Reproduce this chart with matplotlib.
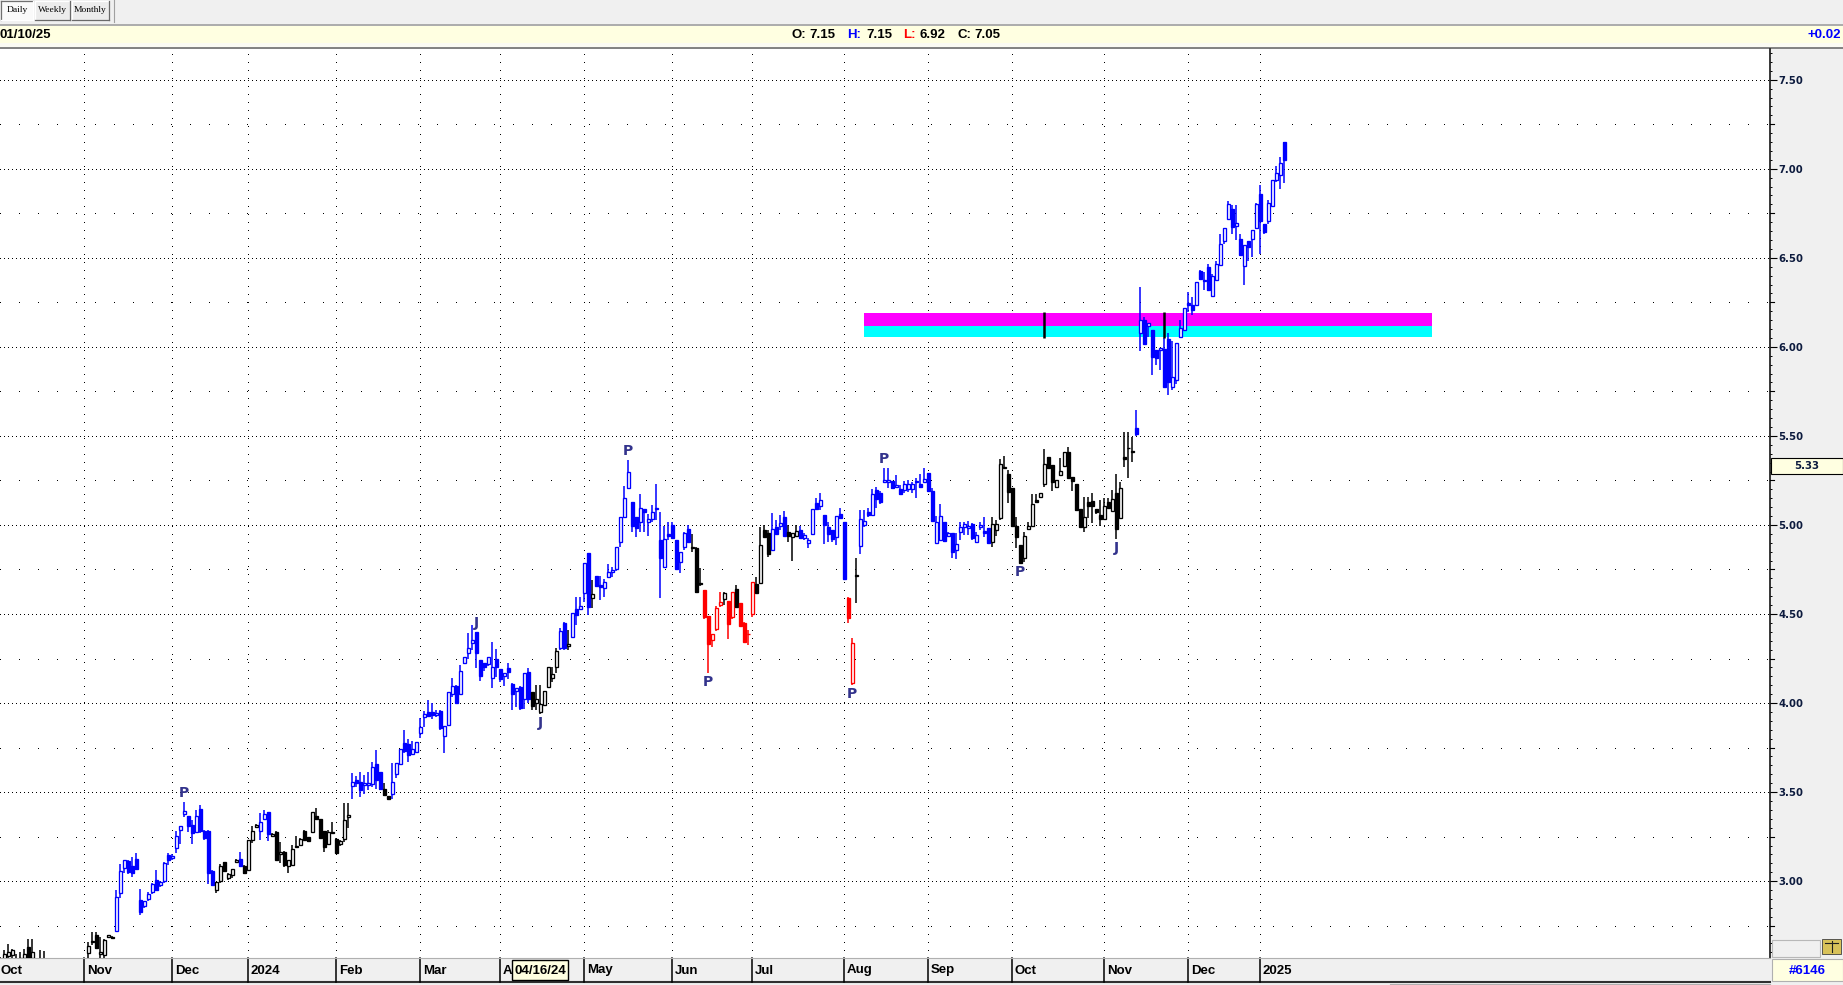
import matplotlib
matplotlib.use("Agg")
import matplotlib.pyplot as plt
from matplotlib.patches import Rectangle
from matplotlib.transforms import blended_transform_factory
from matplotlib.ticker import MultipleLocator
import numpy as np

# ---------------- data (daily bars, index 0 = first bar at left edge) ----------------
opens = [
 2.52, 2.55, 2.58, 2.585, 2.56, 2.55, 2.57, 2.633, 2.57, 2.55,
 2.52, 2.55, 2.50, 2.47, 2.45, 2.48, 2.46, 2.44, 2.47, 2.50,
 2.48, 2.51, 2.597, 2.66, 2.70, 2.59, 2.588, 2.687, 2.685, 2.719,
 2.934, 3.074, 3.111, 3.087, 3.124, 2.896, 2.859, 2.902, 2.939, 3.008,
 2.98, 2.999, 3.149, 3.132, 3.186, 3.289, 3.377, 3.367, 3.317, 3.276,
 3.405, 3.279, 3.279, 3.059, 2.952, 2.999, 3.107, 3.018, 3.035, 3.109,
 3.124, 3.087, 3.061, 3.233, 3.304, 3.279, 3.35, 3.388, 3.255, 3.276,
 3.154, 3.165, 3.083, 3.093, 3.192, 3.205, 3.279, 3.246, 3.276, 3.364,
 3.35, 3.279, 3.21, 3.276, 3.236, 3.21, 3.236, 3.36, 3.534, 3.567,
 3.558, 3.54, 3.54, 3.543, 3.657, 3.614, 3.52, 3.478, 3.489, 3.599,
 3.657, 3.773, 3.77, 3.712, 3.727, 3.83, 3.919, 3.951, 3.948, 3.931,
 3.955, 3.815, 3.876, 4.05, 4.096, 4.05, 4.223, 4.279, 4.339, 4.399,
 4.242, 4.223, 4.217, 4.139, 4.247, 4.189, 4.152, 4.195, 4.107, 4.069,
 4.092, 4.021, 4.176, 4.064, 3.998, 3.951, 3.99, 4.088, 4.139, 4.20,
 4.307, 4.448, 4.318, 4.373, 4.526, 4.526, 4.616, 4.841, 4.588, 4.713,
 4.663, 4.644, 4.71, 4.738, 4.751, 4.906, 5.047, 5.21, 5.127, 5.043,
 5.015, 5.09, 5.015, 5.032, 5.09, 4.916, 4.766, 4.948, 5.0, 4.916,
 4.794, 4.878, 4.978, 4.87, 4.871, 4.67, 4.635, 4.489, 4.354, 4.418,
 4.551, 4.582, 4.573, 4.481, 4.639, 4.564, 4.448, 4.386, 4.498, 4.667,
 4.676, 4.972, 4.953, 4.858, 4.987, 4.994, 5.043, 4.959, 4.934, 4.94,
 4.972, 4.925, 4.897, 4.948, 5.122, 5.107, 5.056, 4.99, 4.972, 4.934,
 5.06, 5.015, 4.588, 4.11, 4.715, 4.882, 5.0, 5.075, 5.056, 5.197,
 5.182, 5.24, 5.243, 5.249, 5.215, 5.2, 5.197, 5.2, 5.2, 5.243,
 5.23, 5.24, 5.29, 5.193, 4.90, 4.916, 5.015, 4.938, 4.953, 4.86,
 4.961, 4.987, 4.985, 5.004, 4.906, 4.987, 4.968, 4.985, 4.903, 4.972,
 5.037, 5.318, 5.286, 5.206, 4.996, 4.888, 4.813, 4.976, 4.994, 5.14,
 5.155, 5.23, 5.379, 5.336, 5.211, 5.28, 5.333, 5.407, 5.267, 5.228,
 5.088, 4.991, 5.131, 5.134, 5.09, 5.056, 5.032, 5.127, 5.08, 5.178,
 5.037, 5.379, 5.43, 5.41, 5.542, 6.08, 6.15, 6.118, 6.097, 5.985,
 5.981, 5.99, 6.043, 5.776, 5.813, 6.056, 6.097, 6.247, 6.237, 6.237,
 6.426, 6.37, 6.449, 6.286, 6.378, 6.462, 6.594, 6.72, 6.776, 6.68,
 6.604, 6.454, 6.593, 6.607, 6.667, 6.86, 6.688, 6.707, 6.791, 6.938,
 6.966, 7.15]
highs = [
 2.575, 2.615, 2.648, 2.62, 2.59, 2.60, 2.62, 2.674, 2.674, 2.56,
 2.614, 2.605, 2.54, 2.52, 2.50, 2.53, 2.51, 2.50, 2.53, 2.55,
 2.54, 2.56, 2.657, 2.717, 2.713, 2.689, 2.675, 2.70, 2.69, 2.952,
 3.098, 3.121, 3.12, 3.134, 3.158, 2.956, 2.89, 2.94, 2.99, 3.064,
 3.0, 3.11, 3.16, 3.15, 3.279, 3.311, 3.444, 3.367, 3.345, 3.401,
 3.429, 3.29, 3.289, 3.06, 2.993, 3.098, 3.11, 3.045, 3.07, 3.125,
 3.162, 3.09, 3.23, 3.307, 3.32, 3.382, 3.397, 3.388, 3.27, 3.28,
 3.218, 3.17, 3.121, 3.205, 3.251, 3.24, 3.289, 3.25, 3.39, 3.41,
 3.35, 3.28, 3.285, 3.332, 3.24, 3.23, 3.438, 3.44, 3.605, 3.59,
 3.614, 3.597, 3.612, 3.67, 3.736, 3.614, 3.55, 3.48, 3.665, 3.661,
 3.74, 3.848, 3.796, 3.789, 3.779, 3.914, 3.957, 4.017, 3.998, 3.962,
 3.96, 3.871, 4.06, 4.138, 4.10, 4.214, 4.26, 4.391, 4.438, 4.399,
 4.242, 4.223, 4.26, 4.344, 4.301, 4.19, 4.17, 4.223, 4.11, 4.085,
 4.095, 4.167, 4.195, 4.064, 4.10, 4.10, 4.07, 4.20, 4.204, 4.307,
 4.42, 4.457, 4.41, 4.504, 4.593, 4.593, 4.785, 4.841, 4.69, 4.713,
 4.713, 4.695, 4.781, 4.762, 4.875, 5.047, 5.219, 5.365, 5.127, 5.043,
 5.174, 5.09, 5.062, 5.11, 5.23, 5.071, 4.996, 5.015, 5.019, 4.916,
 4.846, 4.96, 5.0, 4.948, 4.875, 4.757, 4.635, 4.489, 4.386, 4.544,
 4.625, 4.625, 4.573, 4.622, 4.663, 4.564, 4.457, 4.41, 4.678, 4.71,
 4.991, 5.0, 4.972, 5.066, 5.028, 5.056, 5.081, 5.0, 4.957, 5.0,
 4.994, 4.953, 4.925, 5.088, 5.15, 5.178, 5.056, 5.019, 4.972, 5.052,
 5.094, 5.015, 4.597, 4.363, 4.813, 5.084, 5.084, 5.094, 5.2, 5.212,
 5.19, 5.318, 5.318, 5.249, 5.281, 5.225, 5.249, 5.253, 5.243, 5.262,
 5.287, 5.318, 5.29, 5.206, 5.05, 5.118, 5.015, 4.96, 4.953, 4.953,
 5.019, 5.019, 5.024, 5.009, 4.963, 5.019, 5.047, 4.985, 5.047, 5.028,
 5.37, 5.387, 5.308, 5.206, 5.047, 4.888, 4.963, 5.019, 5.174, 5.174,
 5.178, 5.424, 5.379, 5.336, 5.252, 5.374, 5.411, 5.439, 5.271, 5.228,
 5.088, 5.159, 5.159, 5.178, 5.09, 5.14, 5.15, 5.15, 5.196, 5.286,
 5.243, 5.523, 5.523, 5.495, 5.645, 6.336, 6.168, 6.136, 6.097, 5.985,
 5.996, 6.047, 6.08, 6.032, 6.019, 6.153, 6.219, 6.308, 6.28, 6.364,
 6.43, 6.42, 6.464, 6.411, 6.482, 6.632, 6.669, 6.819, 6.794, 6.794,
 6.636, 6.574, 6.593, 6.654, 6.807, 6.907, 6.688, 6.822, 6.938, 7.015,
 7.065, 7.15]
lows = [
 2.47, 2.50, 2.52, 2.54, 2.50, 2.50, 2.52, 2.54, 2.53, 2.48,
 2.48, 2.50, 2.44, 2.42, 2.40, 2.43, 2.41, 2.40, 2.44, 2.45,
 2.44, 2.47, 2.57, 2.64, 2.62, 2.56, 2.56, 2.68, 2.675, 2.719,
 2.906, 3.046, 3.04, 3.023, 3.064, 2.808, 2.85, 2.89, 2.93, 2.943,
 2.965, 2.99, 3.09, 3.12, 3.158, 3.21, 3.36, 3.274, 3.21, 3.27,
 3.27, 3.23, 2.986, 2.971, 2.934, 2.99, 3.05, 3.005, 3.02, 3.10,
 3.08, 3.04, 3.06, 3.214, 3.30, 3.233, 3.345, 3.223, 3.25, 3.12,
 3.102, 3.08, 3.046, 3.089, 3.19, 3.20, 3.23, 3.22, 3.27, 3.345,
 3.24, 3.162, 3.203, 3.27, 3.15, 3.20, 3.22, 3.30, 3.464, 3.53,
 3.473, 3.492, 3.51, 3.53, 3.52, 3.51, 3.48, 3.455, 3.464, 3.58,
 3.652, 3.718, 3.67, 3.712, 3.721, 3.802, 3.866, 3.923, 3.908, 3.92,
 3.85, 3.721, 3.87, 4.036, 4.0, 4.05, 4.22, 4.246, 4.298, 4.195,
 4.125, 4.182, 4.21, 4.083, 4.148, 4.12, 4.095, 4.133, 3.963, 3.98,
 3.96, 3.965, 4.0, 3.96, 3.96, 3.94, 3.99, 4.088, 4.12, 4.17,
 4.30, 4.298, 4.298, 4.37, 4.44, 4.52, 4.569, 4.494, 4.536, 4.65,
 4.58, 4.597, 4.70, 4.71, 4.74, 4.877, 5.043, 5.20, 4.962, 4.93,
 4.962, 4.958, 4.94, 5.019, 5.03, 4.589, 4.762, 4.915, 4.925, 4.747,
 4.732, 4.86, 4.90, 4.85, 4.62, 4.66, 4.47, 4.17, 4.316, 4.407,
 4.541, 4.55, 4.36, 4.474, 4.532, 4.43, 4.345, 4.326, 4.485, 4.616,
 4.668, 4.931, 4.818, 4.858, 4.951, 4.972, 4.94, 4.906, 4.80, 4.934,
 4.92, 4.916, 4.87, 4.944, 5.084, 5.084, 4.891, 4.906, 4.906, 4.888,
 5.037, 4.691, 4.448, 4.101, 4.56, 4.837, 4.99, 5.047, 5.05, 5.094,
 5.12, 5.234, 5.206, 5.2, 5.21, 5.169, 5.178, 5.187, 5.182, 5.15,
 5.21, 5.24, 5.187, 5.024, 4.897, 4.916, 4.906, 4.93, 4.813, 4.809,
 4.916, 4.944, 4.944, 4.916, 4.897, 4.972, 4.934, 4.891, 4.878, 4.94,
 5.03, 5.318, 5.121, 4.99, 4.869, 4.785, 4.794, 4.976, 4.994, 5.125,
 5.15, 5.215, 5.312, 5.193, 5.206, 5.28, 5.327, 5.265, 5.193, 5.08,
 4.987, 4.963, 5.037, 5.009, 5.062, 4.994, 5.028, 5.093, 5.08, 4.92,
 5.037, 5.327, 5.265, 5.355, 5.499, 5.978, 6.015, 6.056, 5.841, 5.897,
 5.869, 5.776, 5.729, 5.757, 5.794, 6.052, 6.09, 6.196, 6.178, 6.234,
 6.375, 6.318, 6.314, 6.286, 6.374, 6.462, 6.579, 6.716, 6.636, 6.602,
 6.514, 6.35, 6.482, 6.505, 6.664, 6.523, 6.636, 6.692, 6.789, 6.925,
 6.888, 6.92]
closes = [
 2.55, 2.59, 2.60, 2.615, 2.55, 2.57, 2.59, 2.57, 2.60, 2.50,
 2.55, 2.52, 2.47, 2.45, 2.48, 2.46, 2.44, 2.47, 2.50, 2.48,
 2.51, 2.54, 2.635, 2.665, 2.625, 2.60, 2.672, 2.696, 2.678, 2.911,
 3.055, 3.121, 3.051, 3.046, 3.068, 2.827, 2.887, 2.93, 2.986, 2.952,
 2.995, 3.102, 3.121, 3.143, 3.255, 3.311, 3.392, 3.307, 3.27, 3.367,
 3.279, 3.242, 3.046, 2.98, 2.993, 3.083, 3.055, 3.042, 3.068, 3.121,
 3.083, 3.046, 3.229, 3.279, 3.317, 3.334, 3.377, 3.264, 3.266, 3.121,
 3.165, 3.089, 3.121, 3.18, 3.195, 3.236, 3.233, 3.223, 3.388, 3.349,
 3.242, 3.192, 3.274, 3.27, 3.158, 3.223, 3.345, 3.37, 3.554, 3.549,
 3.511, 3.553, 3.549, 3.642, 3.567, 3.52, 3.483, 3.459, 3.554, 3.661,
 3.74, 3.732, 3.708, 3.74, 3.779, 3.867, 3.938, 3.929, 3.933, 3.942,
 3.858, 3.871, 4.06, 4.097, 4.002, 4.18, 4.257, 4.307, 4.354, 4.279,
 4.154, 4.204, 4.257, 4.204, 4.20, 4.133, 4.167, 4.176, 4.049, 4.082,
 3.97, 4.167, 4.021, 3.983, 4.021, 3.994, 4.069, 4.20, 4.161, 4.29,
 4.403, 4.307, 4.33, 4.504, 4.494, 4.547, 4.785, 4.541, 4.61, 4.659,
 4.654, 4.682, 4.734, 4.747, 4.875, 5.043, 5.15, 5.296, 4.996, 4.981,
 5.094, 5.071, 5.032, 5.071, 5.094, 4.813, 4.921, 4.94, 4.925, 4.751,
 4.846, 4.953, 4.906, 4.872, 4.625, 4.668, 4.485, 4.33, 4.386, 4.532,
 4.566, 4.616, 4.442, 4.622, 4.537, 4.434, 4.345, 4.388, 4.678, 4.62,
 4.886, 4.931, 4.835, 4.978, 4.951, 5.009, 4.94, 4.94, 4.957, 4.968,
 4.925, 4.944, 4.916, 5.088, 5.088, 5.14, 4.998, 4.948, 4.921, 5.052,
 5.037, 4.697, 4.476, 4.335, 4.718, 5.032, 5.024, 5.056, 5.172, 5.144,
 5.131, 5.253, 5.253, 5.206, 5.225, 5.172, 5.228, 5.228, 5.228, 5.246,
 5.215, 5.257, 5.193, 5.024, 5.019, 5.05, 4.912, 4.953, 4.85, 4.891,
 4.991, 5.004, 4.994, 4.925, 4.944, 5.0, 4.957, 4.897, 5.004, 5.004,
 5.34, 5.327, 5.183, 4.996, 4.931, 4.789, 4.938, 4.996, 5.116, 5.129,
 5.178, 5.34, 5.318, 5.243, 5.252, 5.303, 5.411, 5.265, 5.249, 5.084,
 4.991, 5.047, 5.108, 5.108, 5.071, 5.032, 5.108, 5.097, 5.144, 4.976,
 5.206, 5.368, 5.433, 5.411, 5.51, 6.153, 6.015, 6.136, 5.944, 5.94,
 5.996, 5.776, 5.80, 5.832, 6.019, 6.108, 6.219, 6.234, 6.209, 6.364,
 6.379, 6.372, 6.321, 6.396, 6.467, 6.579, 6.669, 6.804, 6.673, 6.697,
 6.514, 6.574, 6.561, 6.654, 6.804, 6.705, 6.645, 6.809, 6.938, 6.978,
 7.03, 7.05]
# bar colour classes as runs: k = neutral (black), b = up-trend (blue), r = down-trend (red)
color_runs = [('k', 29), ('b', 25), ('k', 6), ('b', 1), ('k', 4), ('b', 3), ('k', 20),
              ('b', 8), ('k', 2), ('b', 35), ('k', 7), ('b', 2), ('k', 1), ('b', 5),
              ('k', 1), ('b', 24), ('k', 3), ('r', 5), ('k', 1), ('r', 2), ('k', 1),
              ('r', 4), ('k', 4), ('b', 4), ('k', 3), ('b', 12), ('r', 2), ('k', 1),
              ('b', 33), ('k', 36), ('b', 38)]

first_label = 'Oct'
month_labels = ['Nov', 'Dec', '2024', 'Feb', 'Mar', 'A', 'May', 'Jun', 'Jul', 'Aug',
                'Sep', 'Oct', 'Nov', 'Dec', '2025']
month_starts = [21, 43, 62, 84, 105, 125, 146, 168, 188, 211, 232, 253, 276, 297, 315]

y_ticks = [3.0, 3.5, 4.0, 4.5, 5.0, 5.5, 6.0, 6.5, 7.0, 7.5]
quarter_levels = [2.75, 3.25, 3.75, 4.25, 4.75, 5.25, 5.75, 6.25, 6.75, 7.25]

pivot_bars = [46, 119, 135, 157, 177, 213, 221, 255, 279]
pivot_text = ['P', 'J', 'J', 'P', 'P', 'P', 'P', 'P', 'J']
pivot_side = ['hi', 'hi', 'lo', 'hi', 'lo', 'lo', 'hi', 'lo', 'lo']

band_start, band_end = 216, 358
band_lo, band_mid, band_hi = 6.054, 6.118, 6.191
band_markers = [261, 291]

cursor_bar = 135
cursor_date = '04/16/24'
cursor_price = 5.33
last_date = '01/10/25'
symbol_no = '#6146'

# ---------------- layout ----------------
FW, FH = 1843, 985
PR, PT, PB = 1770, 49, 958
SANS = ['Liberation Sans', 'DejaVu Sans']
NAVY = '#0d1b3e'
FS = 9.5

fig = plt.figure(figsize=(FW / 100, FH / 100), dpi=100, facecolor='#f0f0f0')
bg = fig.add_axes([0, 0, 1, 1], zorder=0)
bg.set_xlim(0, FW); bg.set_ylim(FH, 0); bg.axis('off')
ax = fig.add_axes([0, (FH - PB) / FH, PR / FW, (PB - PT) / FH], zorder=2)
ax.set_facecolor('white')
ax.set_xlim(-0.075, 442.425)
ax.set_ylim(2.5685, 7.6724)
fg = fig.add_axes([0, 0, 1, 1], zorder=5)
fg.set_xlim(0, FW); fg.set_ylim(FH, 0); fg.axis('off')

# ---- top chrome ----
def button(x0, w, label, pressed):
    bg.add_patch(Rectangle((x0, 1), w, 19, facecolor='#fafafa' if pressed else '#ececec',
                           edgecolor='none'))
    hi, lo = ('#707070', '#ffffff') if pressed else ('#ffffff', '#6a6a6a')
    bg.plot([x0, x0 + w], [1, 1], color=hi, lw=0.9)
    bg.plot([x0, x0], [1, 20], color=hi, lw=0.9)
    bg.plot([x0, x0 + w], [20, 20], color=lo, lw=0.9)
    bg.plot([x0 + w, x0 + w], [1, 20], color=lo, lw=0.9)
    bg.text(x0 + w / 2, 10.5, label, ha='center', va='center', fontsize=6.8,
            family=['Liberation Serif', 'DejaVu Serif'])

button(1, 32, 'Daily', True)
button(35, 35, 'Weekly', False)
button(72, 37, 'Monthly', False)
bg.plot([114, 114], [0, 22], color='#a0a0a0', lw=0.8)
bg.plot([0, FW], [24.8, 24.8], color='#a0a0a0', lw=1.2)
bg.add_patch(Rectangle((0, 26), FW, 17, facecolor='#ffffe1', edgecolor='none'))
bg.add_patch(Rectangle((0, 43), FW, 4.5, facecolor='#fbfbf3', edgecolor='none'))
bg.plot([0, FW], [48.2, 48.2], color='#6e6e6e', lw=1.2)

o_, h_, l_, c_ = opens[-1], highs[-1], lows[-1], closes[-1]
bg.text(0, 34.5, last_date, ha='left', va='center', fontsize=FS, fontweight='bold', family=SANS)
for lab, lx, lcol, val, vx in [('O:', 792, 'black', o_, 809), ('H:', 847, '#0000ff', h_, 866),
                               ('L:', 903, '#ff0000', l_, 920), ('C:', 957, 'black', c_, 974)]:
    bg.text(lx, 34.5, lab, ha='left', va='center', fontsize=FS, fontweight='bold',
            color=lcol, family=SANS)
    bg.text(vx, 34.5, f'{val:.2f}', ha='left', va='center', fontsize=FS, fontweight='bold',
            family=SANS)
chg = closes[-1] - closes[-2]
bg.text(1841, 34.5, f'{chg:+.2f}', ha='right', va='center', fontsize=FS, fontweight='bold',
        color='#0000ff', family=SANS)

# ---- bottom chrome ----
bg.plot([0, PR], [982, 982], color='#303030', lw=1.5)
bg.plot([1390, PR], [984, 984], color='#b0b0b0', lw=0.8)
fg.add_patch(Rectangle((1772, 959), 71, 22, facecolor='#ffffe1', edgecolor='#b0b0b0', lw=0.8))
fg.text(1807, 970.5, symbol_no, ha='center', va='center', fontsize=FS, fontweight='bold',
        color='#0000ff', family=SANS)
fg.add_patch(Rectangle((1771.5, 940), 48, 17, facecolor='#f0f0f0', edgecolor='#b8b8b8', lw=0.8))
fg.add_patch(Rectangle((1822, 939), 19, 15, facecolor='#d8c25a', edgecolor='#404040', lw=0.6))
fg.plot([1825, 1838], [943, 943], color='#202020', lw=0.8)
fg.plot([1831.5, 1831.5], [941, 952], color='#202020', lw=0.8)

# ---------------- grid ----------------
for p in y_ticks:
    ax.axhline(p, color='black', lw=0.72, ls=(0, (1, 3)), zorder=1, antialiased=False)
for p in quarter_levels:
    ax.axhline(p, color='black', lw=0.72, ls=(0, (1, 18.2)), zorder=1, antialiased=False)
for m in month_starts:
    ax.axvline(m, color='black', lw=0.72, ls=(0, (1, 7.7)), zorder=1, antialiased=False)

# ---------------- support band ----------------
ax.add_patch(Rectangle((band_start, band_mid), band_end - band_start, band_hi - band_mid,
                       facecolor='#ff00ff', edgecolor='none', zorder=1.5))
ax.add_patch(Rectangle((band_start, band_lo), band_end - band_start, band_mid - band_lo,
                       facecolor='#00ffff', edgecolor='none', zorder=1.5))

# ---------------- candles ----------------
cmap = {'k': '#000000', 'b': '#0000ff', 'r': '#ff0000'}
codes = ''.join(ch * n for ch, n in color_runs)
cols = [cmap[ch] for ch in codes]
o = np.array(opens); h = np.array(highs); l = np.array(lows); c = np.array(closes)
x = np.arange(len(o))
up = c >= o
ax.vlines(x, l, h, colors=cols, lw=1.1, zorder=3)
faces = ['white' if u else col for u, col in zip(up, cols)]
ax.bar(x, np.maximum(np.abs(c - o), 0.004), bottom=np.minimum(o, c), width=0.66,
       color=faces, edgecolor=cols, linewidth=0.95, zorder=4)

ax.vlines(band_markers, band_lo - 0.004, band_hi + 0.002, colors='black', lw=1.8, zorder=5)

for b, t, s in zip(pivot_bars, pivot_text, pivot_side):
    yv = h[b] if s == 'hi' else l[b]
    dy = 6.4 if s == 'hi' else -6.4
    ax.annotate(t, (b, yv), xytext=(0, dy), textcoords='offset points', ha='center',
                va='center', fontsize=10, fontweight='bold', color='#33338c',
                family='DejaVu Sans', zorder=6)

# ---------------- axes decoration ----------------
for sp in ['left', 'top']:
    ax.spines[sp].set_visible(False)
ax.spines['bottom'].set_color('#b0b0b0'); ax.spines['bottom'].set_linewidth(0.8)
ax.spines['right'].set_color('black'); ax.spines['right'].set_linewidth(1.1)
ax.set_xticks([])
ax.yaxis.tick_right()
ax.set_yticks(y_ticks)
ax.set_yticklabels([f'{v:.2f}' for v in y_ticks])
ax.yaxis.set_minor_locator(MultipleLocator(0.05))
ax.tick_params(axis='y', which='major', direction='out', length=5, width=0.8, color='black',
               pad=1.2, labelsize=7.3, labelcolor=NAVY)
ax.tick_params(axis='y', which='minor', direction='out', length=1.3, width=0.7, color='black')
for t in ax.get_yticklabels():
    t.set_fontweight('bold')
    t.set_family('DejaVu Sans')
tr_y = blended_transform_factory(ax.transAxes, ax.transData)
for p in quarter_levels:
    if p < 7.6:
        ax.plot([1.0, 1.0 + 3.5 / PR], [p, p], transform=tr_y, clip_on=False, color='black', lw=0.8)

tr_x = blended_transform_factory(ax.transData, ax.transAxes)
axis_h = PB - PT
ax.text(0.1, -12.5 / axis_h, first_label, transform=tr_x, ha='left', va='center', fontsize=FS,
        fontweight='bold', family=SANS)
for idx, lab in zip(month_starts, month_labels):
    ax.plot([idx, idx], [0, -23.5 / axis_h], transform=tr_x, clip_on=False, color='black', lw=1.1)
    ax.text(idx + 0.6, -12.5 / axis_h, lab, transform=tr_x, ha='left', va='center', fontsize=FS,
            fontweight='bold', family=SANS)

# cursor boxes
fig.canvas.draw()
cx = ax.transData.transform((cursor_bar, cursor_price))
cx_px, cy_px = cx[0], FH - cx[1]
fg.add_patch(Rectangle((cx_px - 28, 960), 56, 20, facecolor='#ffffe1', edgecolor='black', lw=1.0))
fg.text(cx_px, 970.5, cursor_date, ha='center', va='center', fontsize=FS, fontweight='bold',
        family=SANS)
fg.add_patch(Rectangle((1771, cy_px - 8.2), 72, 16.5, facecolor='#ffffe1', edgecolor='black', lw=0.8))
fg.text(1807, cy_px, f'{cursor_price:.2f}', ha='center', va='center', fontsize=7.3,
        fontweight='bold', color=NAVY, family='DejaVu Sans')

fig.savefig('out.png', dpi=100, facecolor=fig.get_facecolor())
